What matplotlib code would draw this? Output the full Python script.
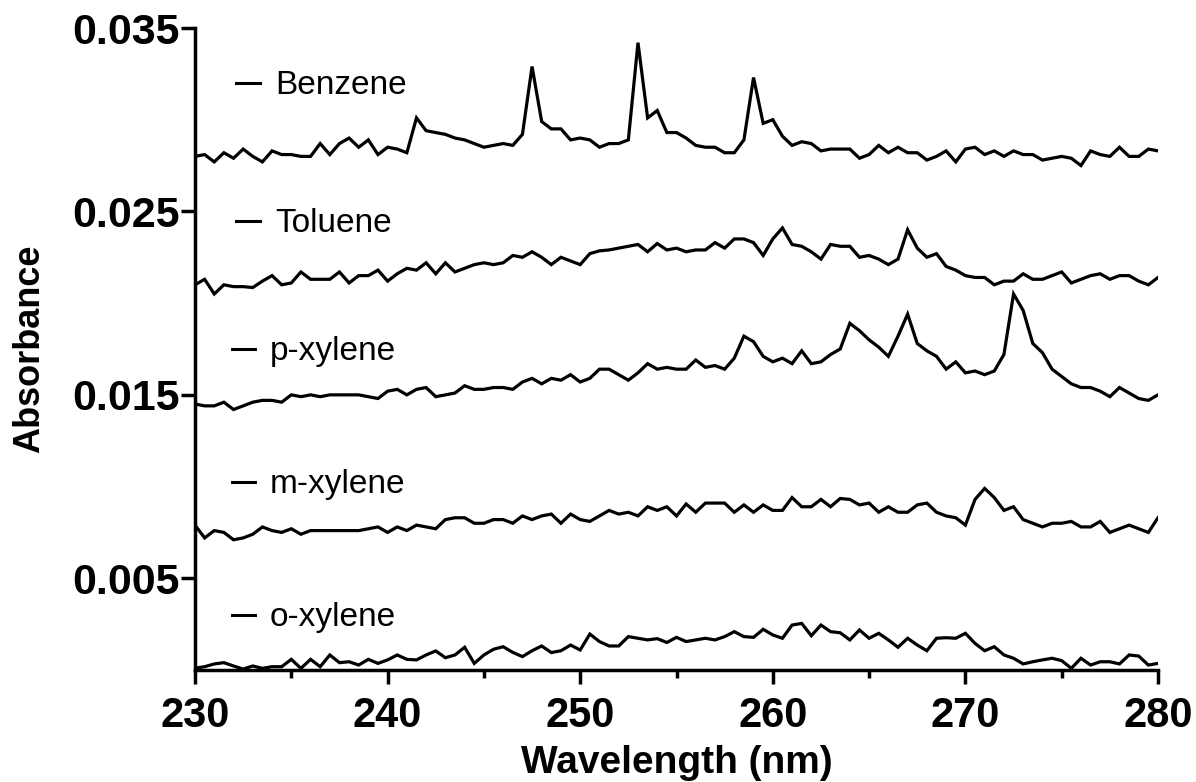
import numpy as np
import matplotlib.pyplot as plt

wavelength = np.arange(230, 280.01, 0.5)

# absorbance x 1000, every 0.5 nm
benzene = [28.0, 28.1, 27.7, 28.2, 27.9, 28.4, 28.0, 27.7, 28.3, 28.1,
           28.1, 28.0, 28.0, 28.7, 28.1, 28.7, 29.0, 28.5, 28.9, 28.1,
           28.5, 28.4, 28.2, 30.1, 29.4, 29.3, 29.2, 29.0, 28.9, 28.7,
           28.5, 28.6, 28.7, 28.6, 29.2, 32.9, 29.9, 29.5, 29.5, 28.9,
           29.0, 28.9, 28.5, 28.7, 28.7, 28.9, 34.2, 30.1, 30.5, 29.3,
           29.3, 29.0, 28.6, 28.5, 28.5, 28.2, 28.2, 28.9, 32.3, 29.8,
           30.0, 29.1, 28.6, 28.8, 28.7, 28.3, 28.4, 28.4, 28.4, 27.9,
           28.1, 28.6, 28.2, 28.5, 28.2, 28.2, 27.8, 28.0, 28.3, 27.7,
           28.4, 28.5, 28.1, 28.3, 28.0, 28.3, 28.1, 28.1, 27.8, 27.9,
           28.0, 27.9, 27.5, 28.3, 28.1, 28.0, 28.5, 28.0, 28.0, 28.4,
           28.3]
toluene = [21.0, 21.3, 20.5, 21.0, 20.9, 20.9, 20.85, 21.2, 21.5, 21.0,
           21.1, 21.7, 21.3, 21.3, 21.3, 21.7, 21.1, 21.5, 21.5, 21.8,
           21.2, 21.6, 21.9, 21.8, 22.2, 21.6, 22.2, 21.7, 21.9, 22.1,
           22.2, 22.1, 22.2, 22.6, 22.5, 22.8, 22.5, 22.1, 22.5, 22.3,
           22.1, 22.7, 22.85, 22.9, 23.0, 23.1, 23.2, 22.8, 23.25, 22.9,
           23.0, 22.8, 22.9, 22.9, 23.3, 23.0, 23.5, 23.5, 23.3, 22.6,
           23.5, 24.1, 23.2, 23.1, 22.8, 22.4, 23.2, 23.1, 23.1, 22.5,
           22.6, 22.4, 22.1, 22.4, 24.0, 23.0, 22.5, 22.7, 22.0, 21.8,
           21.5, 21.4, 21.4, 21.0, 21.2, 21.2, 21.6, 21.3, 21.3, 21.5,
           21.7, 21.1, 21.3, 21.5, 21.6, 21.3, 21.5, 21.5, 21.2, 21.0,
           21.4]
p_xylene = [14.5, 14.4, 14.4, 14.6, 14.2, 14.4, 14.6, 14.7, 14.7, 14.6,
            15.0, 14.9, 15.0, 14.9, 15.0, 15.0, 15.0, 15.0, 14.9, 14.8,
            15.2, 15.3, 15.0, 15.3, 15.4, 14.9, 15.0, 15.1, 15.5, 15.3,
            15.3, 15.4, 15.4, 15.3, 15.7, 15.9, 15.6, 15.9, 15.8, 16.1,
            15.7, 15.9, 16.4, 16.4, 16.1, 15.8, 16.2, 16.7, 16.4, 16.5,
            16.4, 16.4, 16.9, 16.5, 16.6, 16.4, 17.0, 18.2, 17.9, 17.1,
            16.8, 17.0, 16.7, 17.4, 16.7, 16.8, 17.2, 17.5, 18.9, 18.5,
            18.0, 17.6, 17.1, 18.2, 19.4, 17.8, 17.4, 17.1, 16.4, 16.8,
            16.2, 16.3, 16.1, 16.3, 17.2, 20.5, 19.6, 17.8, 17.3, 16.4,
            16.0, 15.6, 15.4, 15.4, 15.2, 14.9, 15.4, 15.1, 14.8, 14.7,
            15.0]
m_xylene = [7.9, 7.2, 7.6, 7.5, 7.1, 7.2, 7.4, 7.8, 7.6, 7.5,
            7.7, 7.4, 7.6, 7.6, 7.6, 7.6, 7.6, 7.6, 7.7, 7.8,
            7.5, 7.8, 7.6, 7.9, 7.8, 7.7, 8.2, 8.3, 8.3, 8.0,
            8.0, 8.2, 8.2, 8.0, 8.4, 8.2, 8.4, 8.5, 8.0, 8.5,
            8.2, 8.1, 8.4, 8.7, 8.5, 8.6, 8.4, 8.9, 8.7, 8.9,
            8.4, 9.05, 8.6, 9.1, 9.1, 9.1, 8.6, 9.0, 8.6, 9.0,
            8.7, 8.7, 9.4, 8.9, 8.9, 9.3, 8.9, 9.35, 9.3, 9.0,
            9.1, 8.6, 8.9, 8.6, 8.6, 9.0, 9.1, 8.6, 8.4, 8.3,
            7.9, 9.3, 9.9, 9.4, 8.7, 8.9, 8.2, 8.0, 7.8, 8.0,
            8.0, 8.1, 7.8, 7.8, 8.1, 7.5, 7.7, 7.9, 7.7, 7.5,
            8.3]
o_xylene = [0.1, 0.18, 0.33, 0.4, 0.22, 0.05, 0.22, 0.09, 0.18, 0.18,
            0.58, 0.09, 0.58, 0.18, 0.82, 0.4, 0.45, 0.27, 0.58, 0.36,
            0.55, 0.82, 0.58, 0.55, 0.82, 1.04, 0.67, 0.82, 1.24, 0.36,
            0.82, 1.13, 1.27, 0.96, 0.73, 1.05, 1.31, 0.95, 1.05, 1.36,
            1.09, 1.96, 1.55, 1.31, 1.31, 1.82, 1.73, 1.64, 1.71, 1.5,
            1.78, 1.55, 1.64, 1.73, 1.64, 1.82, 2.09, 1.82, 1.78, 2.22,
            1.91, 1.73, 2.45, 2.54, 1.87, 2.45, 2.09, 2.03, 1.64, 2.18,
            1.73, 2.0, 1.64, 1.24, 1.73, 1.36, 1.05, 1.73, 1.76, 1.73,
            2.0, 1.45, 1.05, 1.27, 0.82, 0.64, 0.33, 0.45, 0.55, 0.64,
            0.51, 0.09, 0.64, 0.27, 0.45, 0.45, 0.33, 0.82, 0.76, 0.27,
            0.36]

names = ['Benzene', 'Toluene', 'p-xylene', 'm-xylene', 'o-xylene']
series = [benzene, toluene, p_xylene, m_xylene, o_xylene]
# where each label sits (text start in nm, baseline in absorbance x 1000)
label_x = [234.15, 234.15, 233.9, 233.9, 233.9]
label_y = [31.4, 23.9, 16.9, 9.65, 2.4]

xticks = [230, 240, 250, 260, 270, 280]
yticks = [0.005, 0.015, 0.025, 0.035]

arial = ['Liberation Sans', 'DejaVu Sans']

fig = plt.figure(figsize=(11.96, 7.82), dpi=100)
ax = fig.add_axes([195/1196, 112/782, 963/1196, 642/782])

for name, vals, lx, ly in zip(names, series, label_x, label_y):
    assert len(vals) == len(wavelength), name
    ax.plot(wavelength, np.array(vals)/1000, color='black', lw=2.3,
            solid_joinstyle='miter')
    ax.plot([lx-2.0, lx-0.8], [(ly+0.6)/1000]*2, color='black', lw=2.2)
    ax.text(lx, ly/1000, name, fontsize=24, family=arial, va='baseline',
            ha='left')

ax.set_xlim(230, 280)
ax.set_ylim(0, 0.035)
ax.set_xticks(xticks)
ax.set_xticklabels([str(t) for t in xticks], fontsize=30,
                   fontweight='bold', family=arial)
ax.set_xticks(np.arange(235, 280, 10), minor=True)
ax.set_yticks(yticks)
ax.set_yticklabels(['%.3f' % t for t in yticks], fontsize=31,
                   fontweight='bold', family=arial)
ax.tick_params(axis='both', which='major', length=10, width=2.5,
               direction='out')
ax.tick_params(axis='x', which='minor', length=6, width=2.5)
ax.tick_params(axis='x', pad=9)
ax.tick_params(axis='y', pad=1)

for side in ['top', 'right']:
    ax.spines[side].set_visible(False)
for side in ['left', 'bottom']:
    ax.spines[side].set_linewidth(2.5)

ax.set_xlabel('Wavelength (nm)', fontsize=28, fontweight='bold',
              family=arial, labelpad=6)
ax.set_ylabel('Absorbance', fontsize=26, fontweight='bold', family=arial,
              labelpad=18)

fig.savefig('out.png', dpi=100)
